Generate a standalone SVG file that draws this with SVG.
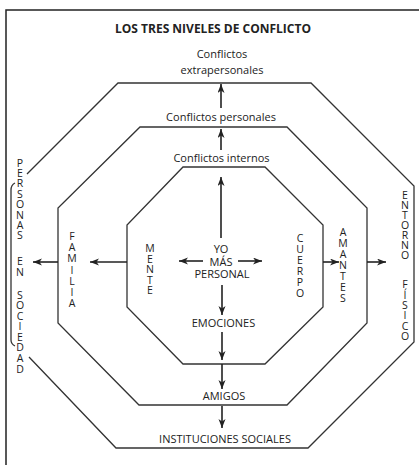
<svg xmlns="http://www.w3.org/2000/svg" width="419" height="465" viewBox="0 0 419 465">
<defs>
<marker id="ah" markerUnits="userSpaceOnUse" markerWidth="10" markerHeight="8" refX="9" refY="3.5" orient="auto">
<path d="M0,0 L9,3.5 L0,7 L2.5,3.5 Z" fill="#222"/>
</marker>
<style>
.oct{fill:none;stroke:#333;stroke-width:1.3;stroke-linejoin:miter}
.frame{fill:none;stroke:#222;stroke-width:1.5}
.c line{stroke:#222;stroke-width:1.6;marker-end:url(#ah)}
text{font-family:"Open Sans","Noto Sans","Liberation Sans",sans-serif;fill:#222;font-size:11px;text-anchor:middle}
.t{font-weight:bold;font-size:12px}
.v{font-size:10.5px}
</style>
</defs>
<rect width="419" height="465" fill="#fff"/>
<path class="frame" d="M6,465 L6,10 L419,10"/>
<g id="title"><text class="t" x="213" y="33">LOS TRES NIVELES DE CONFLICTO</text></g>
<g id="outer">
<path class="oct" d="M27,174 L118,83 L311,83 L414,186 L414,342 L308,448 L116,448 L29,357"/>
<path class="oct" d="M15,183 Q11,185 11,190 L11,340 Q11,344 15,346"/>
<text x="222" y="58">Conflictos</text>
<text x="222" y="74">extrapersonales</text>
<text x="225" y="443">INSTITUCIONES SOCIALES</text>
<text class="v" x="20"><tspan x="20" y="166.5">P</tspan><tspan x="20" y="177">E</tspan><tspan x="20" y="187.4">R</tspan><tspan x="20" y="197.8">S</tspan><tspan x="20" y="208.2">O</tspan><tspan x="20" y="218.6">N</tspan><tspan x="20" y="229">A</tspan><tspan x="20" y="239.4">S</tspan><tspan x="20" y="265">E</tspan><tspan x="20" y="275.5">N</tspan><tspan x="20" y="298.5">S</tspan><tspan x="20" y="309">O</tspan><tspan x="20" y="319.6">C</tspan><tspan x="20" y="330.2">I</tspan><tspan x="20" y="340.8">E</tspan><tspan x="20" y="351.4">D</tspan><tspan x="20" y="362">A</tspan><tspan x="20" y="373">D</tspan></text>
<text class="v" x="405"><tspan x="405" y="199">E</tspan><tspan x="405" y="209">N</tspan><tspan x="405" y="219">T</tspan><tspan x="405" y="229">O</tspan><tspan x="405" y="239">R</tspan><tspan x="405" y="249">N</tspan><tspan x="405" y="259">O</tspan><tspan x="405" y="288">F</tspan><tspan x="405" y="298.5">Í</tspan><tspan x="405" y="309">S</tspan><tspan x="405" y="319">I</tspan><tspan x="405" y="329.5">C</tspan><tspan x="405" y="340">O</tspan></text>
</g>
<g id="middle">
<path class="oct" d="M140,127 L287,127 L367,208 L367,323 L287,405 L139,405 L58,323 L58,208 Z"/>
<text x="221" y="121">Conflictos personales</text>
<text x="224" y="400">AMIGOS</text>
<text class="v" x="72"><tspan x="72" y="240">F</tspan><tspan x="72" y="251.2">A</tspan><tspan x="72" y="262.4">M</tspan><tspan x="72" y="273.6">I</tspan><tspan x="72" y="284.8">L</tspan><tspan x="72" y="296">I</tspan><tspan x="72" y="307">A</tspan></text>
<text class="v" x="343"><tspan x="343" y="236">A</tspan><tspan x="343" y="247">M</tspan><tspan x="343" y="258">A</tspan><tspan x="343" y="269">N</tspan><tspan x="343" y="280">T</tspan><tspan x="343" y="291">E</tspan><tspan x="343" y="302">S</tspan></text>
</g>
<g id="inner">
<path class="oct" d="M183,167 L265,167 L323,225 L323,307 L265,364 L183,364 L127,307 L127,225 Z"/>
<text x="221.5" y="162">Conflictos internos</text>
<text x="223.5" y="327">EMOCIONES</text>
<text class="v" x="150"><tspan x="150" y="252">M</tspan><tspan x="150" y="262.5">E</tspan><tspan x="150" y="273">N</tspan><tspan x="150" y="283.5">T</tspan><tspan x="150" y="294">E</tspan></text>
<text class="v" x="300"><tspan x="300" y="242">C</tspan><tspan x="300" y="253">U</tspan><tspan x="300" y="264">E</tspan><tspan x="300" y="275">R</tspan><tspan x="300" y="286">P</tspan><tspan x="300" y="297">O</tspan></text>
</g>
<g id="yo">
<text x="221" y="253">YO</text>
<text x="221" y="265.5">MÁS</text>
<text x="222" y="278">PERSONAL</text>
</g>
<g class="c" id="connectors">
<line x1="221" y1="108" x2="221" y2="84"/>
<line x1="221" y1="150" x2="221" y2="129"/>
<line x1="221" y1="238" x2="221" y2="177"/>
<line x1="203" y1="261" x2="179" y2="261"/>
<line x1="238" y1="261" x2="262" y2="261"/>
<line x1="222" y1="285" x2="222" y2="315"/>
<line x1="222" y1="332" x2="222" y2="360"/>
<line x1="222" y1="364" x2="222" y2="389"/>
<line x1="222" y1="406" x2="222" y2="428"/>
<line x1="127" y1="262" x2="90" y2="262"/>
<line x1="58" y1="262" x2="33" y2="262"/>
<line x1="323" y1="262" x2="339" y2="262"/>
<line x1="367" y1="262" x2="386" y2="262"/>
</g>
</svg>
